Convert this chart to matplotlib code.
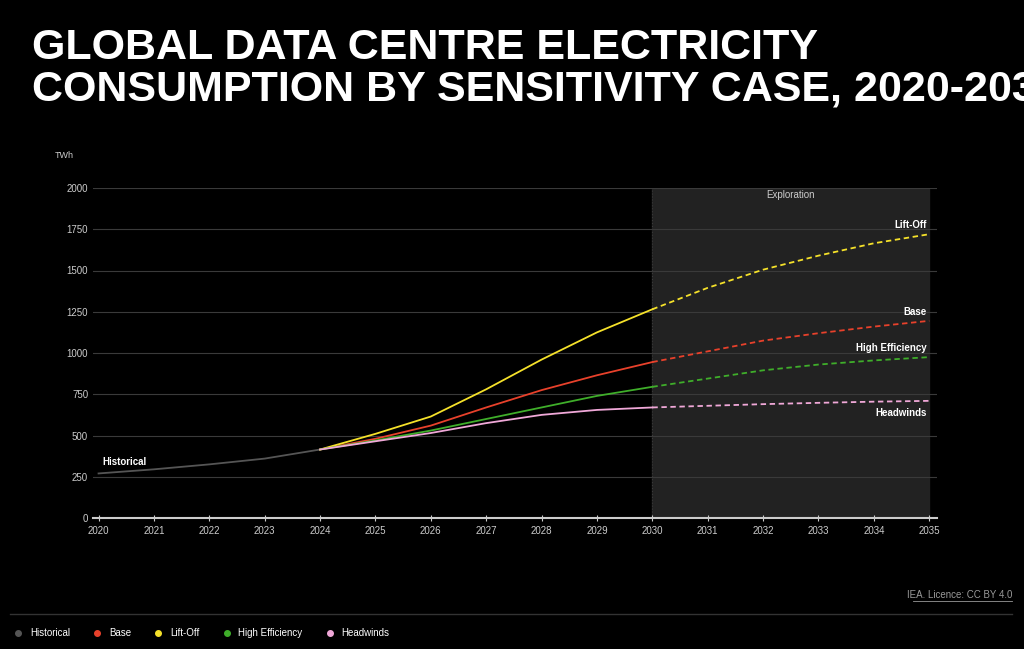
import matplotlib
matplotlib.use("Agg")
import matplotlib.pyplot as plt
from matplotlib.lines import Line2D

hist_years = [2020, 2021, 2022, 2023, 2024]
historical = [270, 295, 325, 360, 415]
years = list(range(2024, 2036))
base = [415, 480, 560, 670, 775, 865, 945, 1010, 1075, 1120, 1160, 1195]
liftoff = [415, 510, 615, 780, 960, 1125, 1265, 1395, 1505, 1590, 1665, 1720]
high_eff = [415, 470, 530, 600, 670, 740, 795, 845, 895, 930, 955, 975]
headwinds = [415, 465, 515, 575, 625, 655, 670, 680, 690, 698, 705, 710]
yticks = [0, 250, 500, 750, 1000, 1250, 1500, 1750, 2000]

series = [
    ("Base", base, "#e8412b"),
    ("Lift-Off", liftoff, "#f5e12a"),
    ("High Efficiency", high_eff, "#3fae2a"),
    ("Headwinds", headwinds, "#f0a8d8"),
]

plt.rcParams['font.family'] = ['Liberation Sans', 'DejaVu Sans']
fig = plt.figure(figsize=(10.24, 6.49), dpi=100, facecolor="black")
ax = fig.add_axes([93 / 1024, 1 - 518 / 649, (937 - 93) / 1024, 330 / 649])
ax.set_facecolor("black")

ax.axvspan(2030, 2035, color="#222222", zorder=0)
ax.axvline(2030, color="#3a3a3a", lw=0.8, ls=":", zorder=0.5)
for t in yticks[1:]:
    ax.axhline(t, color="#3a3a3a", lw=0.8, zorder=1)

ax.plot(hist_years, historical, color="#555555", lw=1.3, zorder=3)
split = years.index(2030)
for name, vals, col in series:
    ax.plot(years[:split + 1], vals[:split + 1], color=col, lw=1.3, zorder=3)
    ax.plot(years[split:], vals[split:], color=col, lw=1.3, ls=(0, (3, 2)), zorder=3)
    ax.annotate(name, (2035, vals[-1]), xytext=(-2, 3 if name != "Headwinds" else -12),
                textcoords="offset points", ha="right", va="bottom",
                color="white", fontsize=7, fontweight="bold")
ax.annotate("Historical", (2020, historical[0]), xytext=(3, 6), textcoords="offset points",
            color="white", fontsize=7, fontweight="bold")
ax.text(2032.5, 1955, "Exploration", color="#cccccc", fontsize=7, ha="center", va="center")

ax.set_xlim(2019.9, 2035.14)
ax.set_ylim(0, 2000)
ax.set_xticks(range(2020, 2036))
ax.set_yticks(yticks)
ax.tick_params(colors="#cccccc", labelsize=7, length=0)
ax.tick_params(axis="x", length=5, color="#cccccc", direction="inout")
for s in ["top", "right", "left"]:
    ax.spines[s].set_visible(False)
ax.spines["bottom"].set_color("#cccccc")
ax.spines["bottom"].set_linewidth(1.5)
ax.text(-0.045, 1.09, "TWh", transform=ax.transAxes, color="#cccccc", fontsize=6.5)

fig.text(32 / 1024, 1 - 28 / 649, "GLOBAL DATA CENTRE ELECTRICITY\nCONSUMPTION BY SENSITIVITY CASE, 2020-2035",
         color="white", fontsize=31, fontweight="bold", va="top", linespacing=1.05,
         family=["Liberation Sans", "DejaVu Sans"])

fig.text(1012 / 1024, 1 - 595 / 649, "IEA. Licence: CC BY 4.0", color="#999999",
         fontsize=7, ha="right", va="center")
fig.add_artist(Line2D([913 / 1024, 1012 / 1024], [1 - 601 / 649] * 2, color="#999999", lw=0.6))
fig.add_artist(Line2D([10 / 1024, 1012 / 1024], [1 - 614 / 649] * 2, color="#333333", lw=1))

handles = [Line2D([], [], marker="o", ls="", color="#555555", markersize=4)]
handles += [Line2D([], [], marker="o", ls="", color=c, markersize=4) for _, _, c in series]
names = ["Historical"] + [n for n, _, _ in series]
leg = fig.legend(handles, names, loc="center left", bbox_to_anchor=(0.0, 1 - 633 / 649),
                 ncol=5, frameon=False, fontsize=7, handletextpad=0.2, columnspacing=1.8)
for t in leg.get_texts():
    t.set_color("white")

fig.savefig("out.png", dpi=100, facecolor="black")
